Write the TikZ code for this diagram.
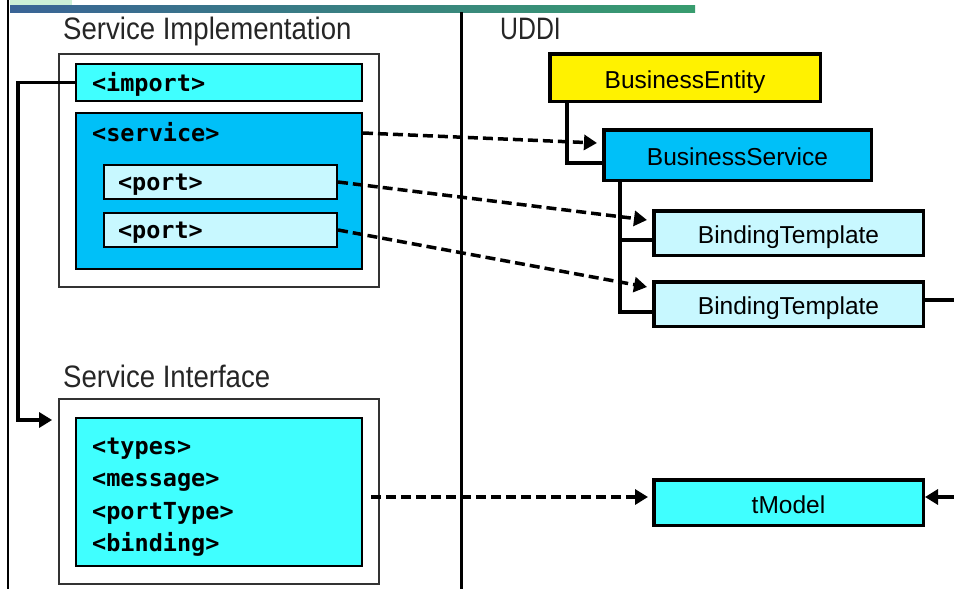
\documentclass[tikz,border=0pt]{standalone}
\usepackage{fontspec}
\usepackage{graphicx}
\setmainfont{Liberation Sans}
\newfontfamily\monofont{DejaVu Sans Mono}
\usetikzlibrary{arrows.meta}
\definecolor{cyanA}{RGB}{64,255,255}
\definecolor{skyB}{RGB}{0,192,248}
\definecolor{paleC}{RGB}{200,248,255}
\definecolor{barL}{RGB}{58,100,150}
\definecolor{barR}{RGB}{56,156,110}
\definecolor{gridG}{RGB}{205,240,215}
\begin{document}
\begin{tikzpicture}[x=1pt,y=-1pt,
  outerbox/.style={draw=black!80, line width=1.8pt, fill=white, inner sep=0pt},
  wsdlbox/.style={draw=black, line width=2pt, inner sep=0pt},
  uddibox/.style={draw=black, line width=3.5pt, inner sep=0pt,
     font=\fontsize{24.5}{28}\selectfont, text height=22pt, text depth=0.5pt},
  mono/.style={font=\monofont\bfseries\fontsize{23.5}{28}\selectfont,
     text height=19.5pt, text depth=2.5pt, inner sep=0pt},
  head/.style={font=\fontsize{31}{34}\selectfont, inner sep=0pt, anchor=base west, text=black!85},
  conn/.style={line width=3.5pt},
  tip/.style={-{Triangle[length=13pt,width=15pt]}},
  dconn/.style={line width=3.5pt, dash pattern=on 10pt off 5pt, tip}
]
\useasboundingbox (0,0) rectangle (954,589);
\fill[white] (0,0) rectangle (954,589);

% top decoration
\fill[gridG] (10,0) rectangle (72,5);
\shade[left color=barL, right color=barR] (10,5) rectangle (695,12);

% vertical lines
\draw[line width=2.5pt] (8,0) -- (8,589);
\draw[line width=3pt] (461,12) -- (461,589);

% headers
\node[head] (hImpl) at (63,39) {\scalebox{0.89}[1]{Service Implementation}};
\node[head] (hIntf) at (63,387) {\scalebox{0.89}[1]{Service Interface}};
\node[head] (hUddi) at (500,39) {\scalebox{0.8}[1]{UDDI}};

% service implementation
\node[outerbox, minimum width=320pt, minimum height=233pt] (simo) at (219,170.5) {};
\node[mono, wsdlbox, fill=cyanA, minimum height=37pt, text width=254pt, inner xsep=16pt, align=left] (imp) at (219,82.5) {<import>};
\node[wsdlbox, fill=skyB, minimum width=286pt, minimum height=156pt] (srv) at (219,191) {};
\node[mono, anchor=west] (srvl) at (92,133) {<service>};
\node[mono, wsdlbox, fill=paleC, minimum height=34pt, text width=205pt, inner xsep=14pt, align=left] (p1) at (220.5,182) {<port>};
\node[mono, wsdlbox, fill=paleC, minimum height=34pt, text width=205pt, inner xsep=14pt, align=left] (p2) at (220.5,230) {<port>};

% service interface
\node[outerbox, minimum width=320pt, minimum height=185pt] (sifo) at (219,491.5) {};
\node[wsdlbox, fill=cyanA, minimum width=286pt, minimum height=148pt] (sii) at (219,492) {};
\node[mono, anchor=west] (t1) at (92,446) {<types>};
\node[mono, anchor=west] (t2) at (92,478) {<message>};
\node[mono, anchor=west] (t3) at (92,511) {<portType>};
\node[mono, anchor=west] (t4) at (92,543) {<binding>};

% UDDI
\node[uddibox, fill=yellow, minimum width=270.5pt, minimum height=47.5pt] (be) at (685,77.5) {BusinessEntity};
\node[uddibox, fill=skyB, minimum width=267.5pt, minimum height=50.5pt] (bs) at (737.5,155) {BusinessService};
\node[uddibox, fill=paleC, minimum width=269.5pt, minimum height=44.5pt] (bt1) at (788.5,233) {BindingTemplate};
\node[uddibox, fill=paleC, minimum width=269.5pt, minimum height=44.5pt] (bt2) at (788.5,304) {BindingTemplate};
\node[uddibox, fill=cyanA, minimum width=269.5pt, minimum height=45.5pt] (tm) at (788.5,502.5) {tModel};

% solid connectors
\coordinate (c1) at (18,420);
\draw[conn, tip, shorten >=6pt] (imp.west) -| (c1) -- (sifo.west |- c1);
\draw[conn] ([xshift=19pt]be.south west) |- ([yshift=-8pt]bs.west);
\draw[conn] ([xshift=18pt]bs.south west) |- ([yshift=-7pt]bt1.west);
\draw[conn] ([xshift=18pt]bs.south west) |- ([yshift=-8pt]bt2.west);
\coordinate (r1) at (954,300);
\draw[conn] (bt2.east |- r1) -- (r1);
\coordinate (tmin) at ([yshift=5.5pt]tm.west);
\coordinate (tmr) at ([yshift=5.5pt]tm.east);
\coordinate (r2) at (954,497);
\draw[conn, tip] (r2) -- (tmr);

% dashed connectors
\draw[dconn] (srv.east |- srvl) -- ([xshift=-5pt,yshift=12pt]bs.west);
\draw[dconn] (p1.east) -- ([xshift=-5pt,yshift=13pt]bt1.west);
\draw[dconn] (p2.east) -- ([xshift=-5pt,yshift=17pt]bt2.west);
\draw[dconn, shorten <=8pt] (sii.east |- tmin) -- ([xshift=-4pt]tmin);
\end{tikzpicture}
\end{document}
